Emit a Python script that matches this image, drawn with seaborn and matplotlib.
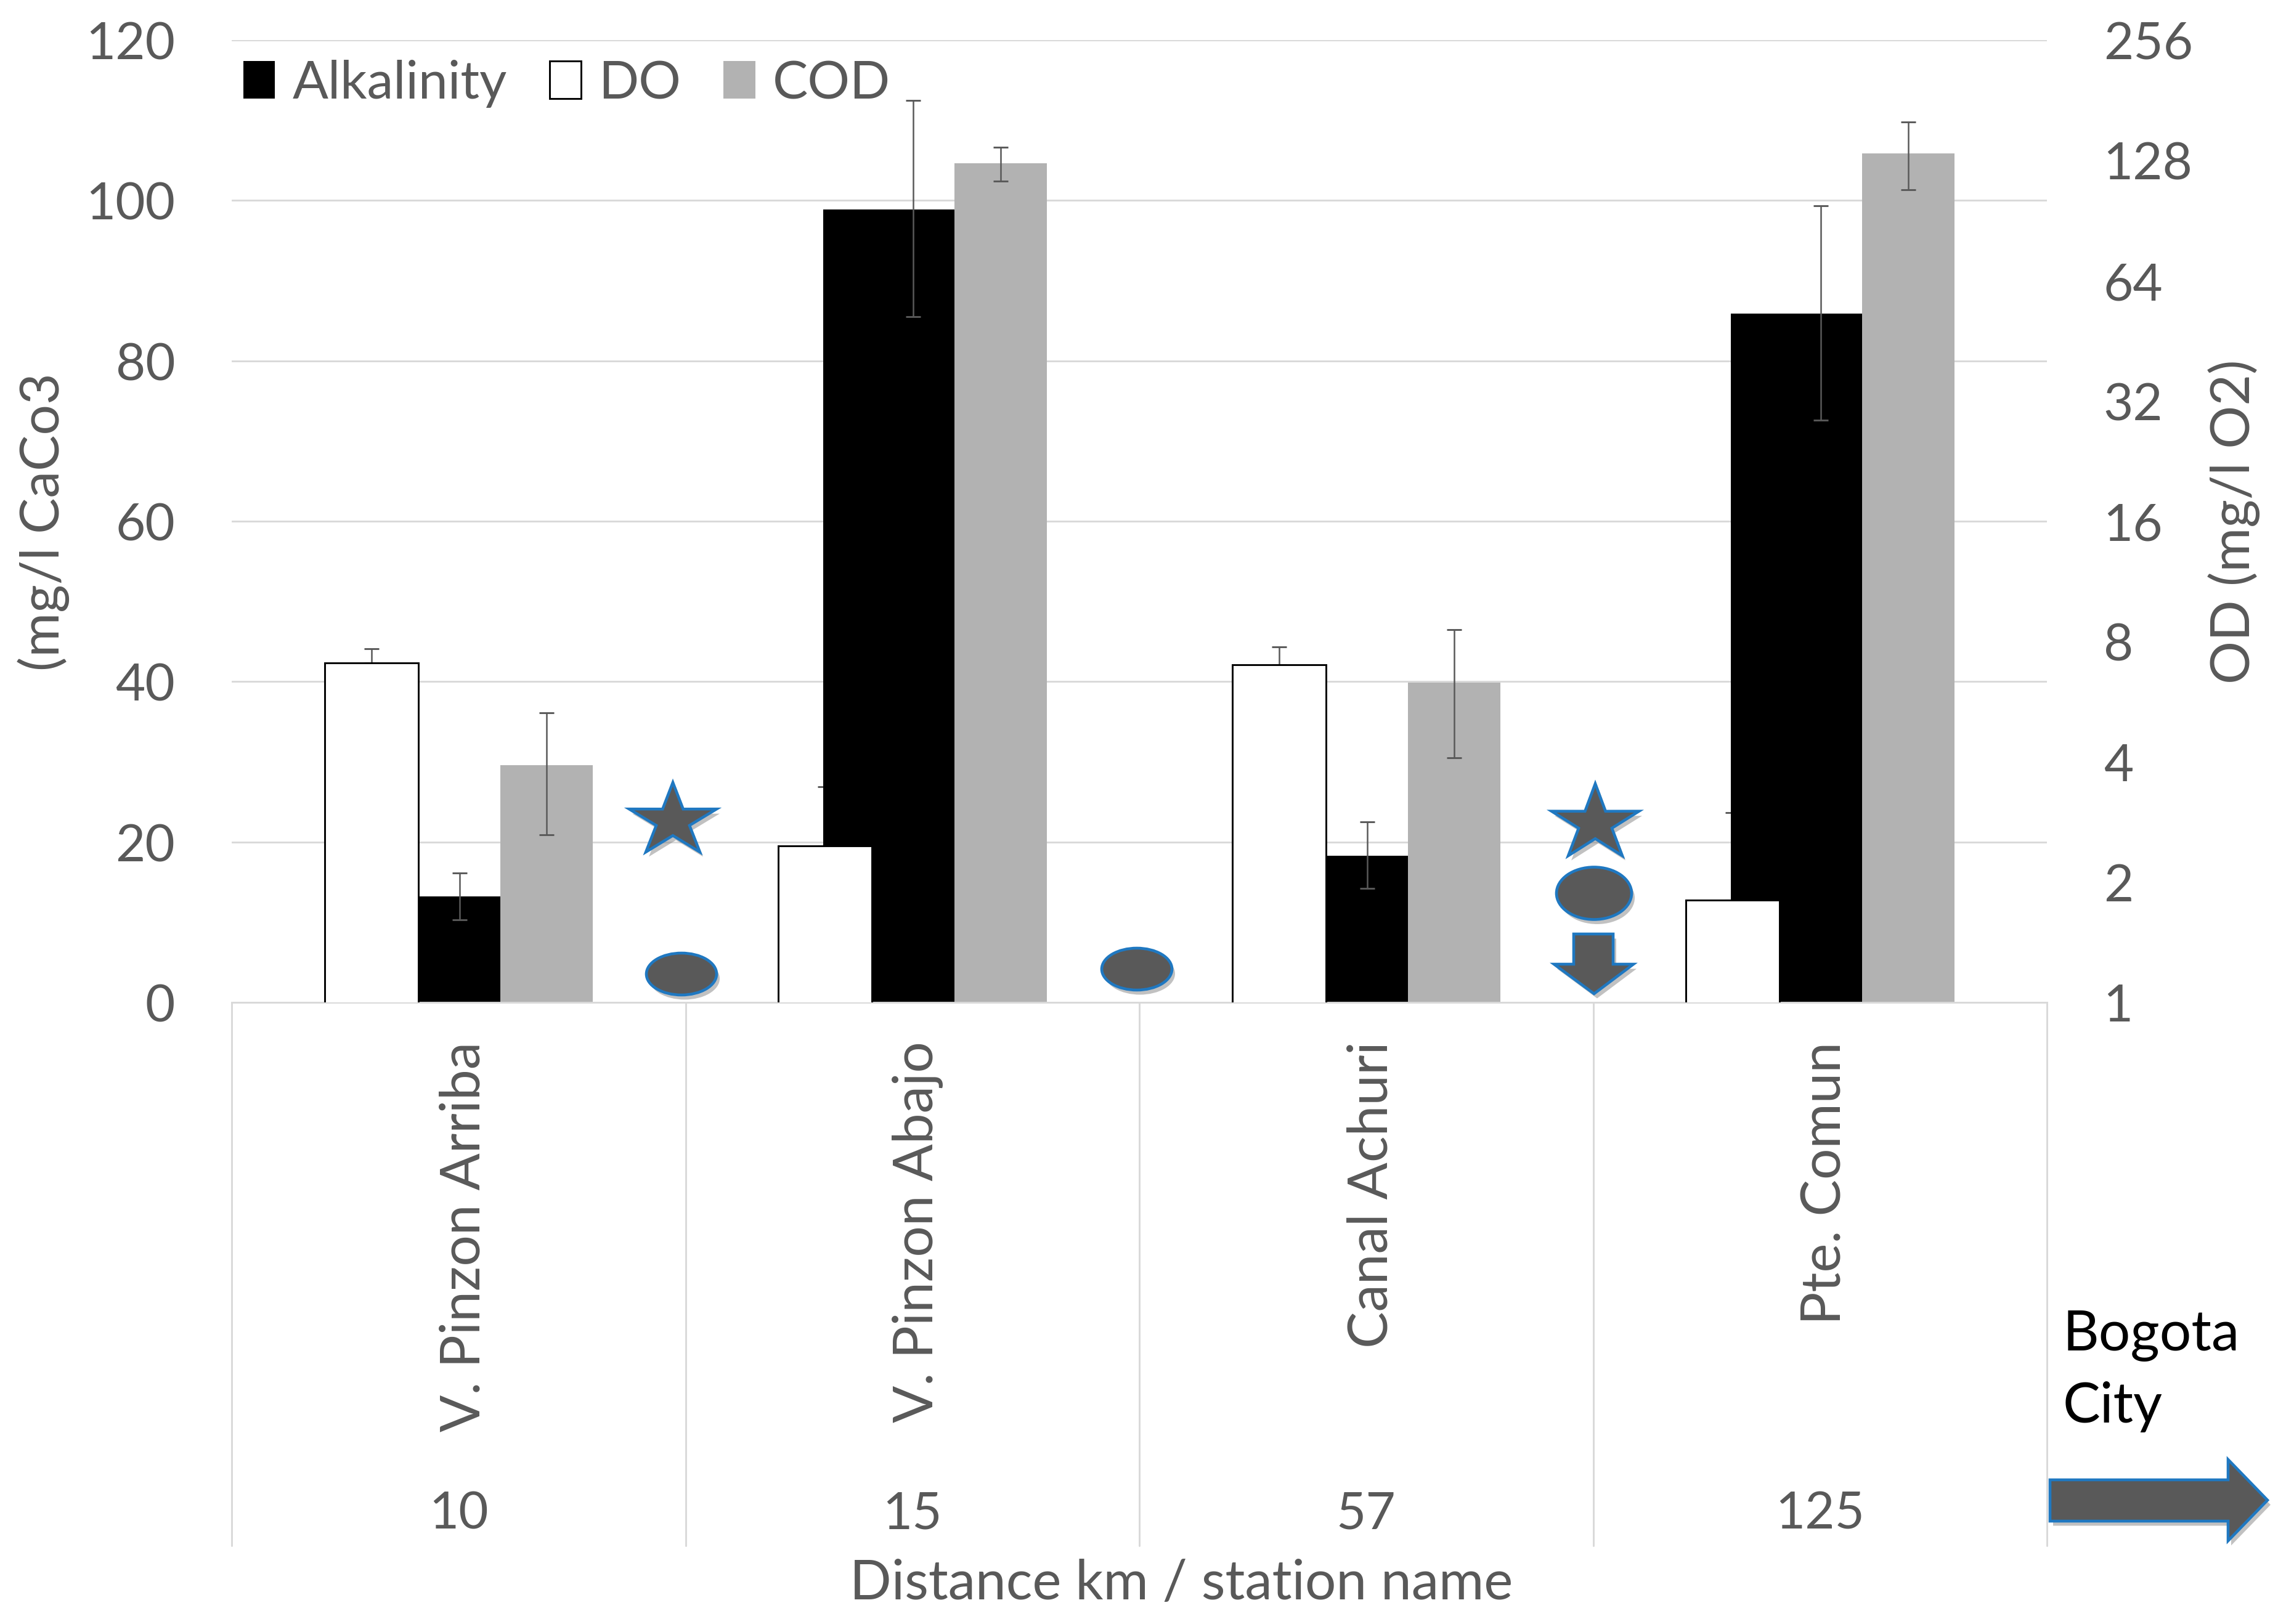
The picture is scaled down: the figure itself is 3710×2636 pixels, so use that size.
#!/usr/bin/env python3

import numpy as np
import seaborn as sns
import matplotlib
matplotlib.use("Agg")
import matplotlib.pyplot as plt
import matplotlib.patches as mpatches
import matplotlib.patheffects as pe
from matplotlib.path import Path
from matplotlib.transforms import ScaledTranslation

stations = ["V. Pinzon Arriba", "V. Pinzon Abajo", "Canal Achuri", "Pte. Comun"]
distances = ["10", "15", "57", "125"]

alkalinity = [13.2, 98.9, 18.3, 85.9]
alkalinity_low = [2.9, 13.4, 4.1, 13.3]
alkalinity_high = [2.9, 13.6, 4.2, 13.4]
cod = [29.6, 104.6, 39.9, 105.9]
cod_low = [8.7, 2.2, 9.4, 4.6]
cod_high = [6.5, 2.0, 6.6, 3.9]
do = [7.07, 2.46, 7.0, 1.80]
do_high = [0.61, 1.0, 0.75, 1.18]

left_ticks = [0, 20, 40, 60, 80, 100, 120]
right_ticks = [1, 2, 4, 8, 16, 32, 64, 128, 256]

TEXT = "#595959"
GRID = "#D9D9D9"
SHAPE = "#595959"
EDGE = "#1F78C1"
FS = 20
FS_LABEL = 21.4

sns.set_style("whitegrid")
plt.rcParams["font.family"] = ["Lato", "DejaVu Sans"]


def bars(ax, values, offset, width, **kw):
    xs = np.arange(len(values)) + offset
    sns.barplot(x=xs, y=values, native_scale=True, width=width, errorbar=None,
                saturation=1, ax=ax, **kw)


def errs(ax, values, low, high, offset, zorder=5):
    xs = np.arange(len(values)) + offset
    ax.errorbar(xs, values, yerr=[low, high], fmt="none", ecolor="#595959", elinewidth=0.6,
                capsize=2.9, capthick=0.7, zorder=zorder)


def shape(over, patch):
    patch.set(facecolor=SHAPE, edgecolor=EDGE, linewidth=1.1, zorder=5)
    patch.set_path_effects([
        pe.SimplePatchShadow(offset=(1.2, -1.8), shadow_rgbFace="#777777", alpha=0.45),
        pe.Normal(),
    ])
    over.add_patch(patch)


def star(x0, x1, y0, y1):
    verts = Path.unit_regular_star(5, innerCircle=0.38).vertices[:-1]
    verts = verts - verts.min(axis=0)
    verts = verts / verts.max(axis=0)
    return mpatches.Polygon(
        np.column_stack([x0 + verts[:, 0] * (x1 - x0), y1 - verts[:, 1] * (y1 - y0)]),
        closed=True,
    )


fig = plt.figure(figsize=(3710 / 300, 2637 / 300), dpi=300)
ax = fig.add_axes([376 / 3710, 1 - 1628 / 2637, 2946 / 3710, 1562 / 2637])

# three layers: DO error bars sit behind the black bars, DO bars in front
ax_back = ax.twinx()
ax_back.set_zorder(0)
ax.set_zorder(1)
ax.patch.set_visible(False)
ax_do = ax.twinx()
ax_do.set_zorder(2)
ax_do.patch.set_visible(False)

for a in (ax_back, ax_do):
    a.set_yscale("log", base=2)

errs(ax_back, do, [0, 0, 0, 0], do_high, -0.192)
ax_back.set_ylim(1, 256)
ax_back.axis("off")

bars(ax, alkalinity, -0.052, 0.289, color="black", linewidth=0, label="Alkalinity")
bars(ax, cod, 0.194, 0.204, color="#B2B2B2", linewidth=0, label="COD")
errs(ax, alkalinity, alkalinity_low, alkalinity_high, 0.002)
errs(ax, cod, cod_low, cod_high, 0.194)

bars(ax_do, do, -0.192, 0.206, color="white", edgecolor="black", linewidth=0.7, label="DO")

ax.set_ylim(0, 120)
ax.set_yticks(left_ticks)
ax.grid(axis="y", color=GRID, linewidth=0.7)
ax.grid(axis="x", visible=False)
ax.set_axisbelow(True)
ax.tick_params(axis="y", length=0, pad=22, labelsize=FS, labelcolor=TEXT)
ax.set_xlim(-0.5, 3.5)
ax.set_xticks(range(len(stations)))
ax.set_xticklabels(stations, rotation=90, va="top", ha="center")
ax.tick_params(axis="x", length=0, pad=15, labelsize=FS_LABEL, labelcolor=TEXT)
nudge = ScaledTranslation(9 / 300, 0, fig.dpi_scale_trans)
for lab in ax.get_xticklabels():
    lab.set_transform(lab.get_transform() + nudge)
sns.despine(ax=ax, left=True, right=True, top=True, bottom=False)
ax.spines["bottom"].set_color(GRID)
ax.spines["bottom"].set_linewidth(0.7)

ax_do.set_ylim(1, 256)
ax_do.set_yticks(right_ticks)
ax_do.set_yticklabels([str(t) for t in right_ticks])
ax_do.minorticks_off()
ax_do.grid(False)
ax_do.tick_params(axis="y", length=0, pad=22, labelsize=FS, labelcolor=TEXT)
for side in ax_do.spines:
    ax_do.spines[side].set_visible(False)

ax.set_ylabel("(mg/l CaCo3", fontsize=21, color=TEXT, va="center")
ax.yaxis.set_label_coords(-0.1036, 0.5)
ax_do.set_ylabel("OD (mg/l O2)", fontsize=21, color=TEXT, rotation=90, va="center")
ax_do.yaxis.set_label_coords(1.103, 0.5)
ax.set_xlabel("Distance km / station name", fontsize=FS_LABEL, color=TEXT, va="center")
ax.xaxis.set_label_coords(0.523, -0.604)

# group dividers and distance row under the axis
for edge in np.arange(len(stations) + 1) - 0.5:
    ax.plot([edge, edge], [0, -0.5647], transform=ax.get_xaxis_transform(),
            color=GRID, linewidth=0.7, clip_on=False)
for i, d in enumerate(distances):
    ax.text(i, -0.532, d, transform=ax.get_xaxis_transform(), ha="center", va="center",
            fontsize=FS, color=TEXT)

h, l = ax.get_legend_handles_labels()
h2, l2 = ax_do.get_legend_handles_labels()
if ax.get_legend():
    ax.get_legend().remove()
if ax_do.get_legend():
    ax_do.get_legend().remove()
ax_do.legend([h[0], h2[0], h[1]], [l[0], l2[0], l[1]], ncol=3, loc="upper left",
             bbox_to_anchor=(0.0064, 0.98), frameon=False, fontsize=20.6, labelcolor=TEXT,
             handlelength=0.6, handleheight=0.72, handletextpad=0.33, columnspacing=0.8,
             borderaxespad=0, borderpad=0)

# hand-drawn annotations sit over the chart in pixel coordinates
over = fig.add_axes([0, 0, 1, 1], zorder=10)
over.set_xlim(0, 3710)
over.set_ylim(2637, 0)
over.axis("off")

shape(over, star(1021, 1163, 1271, 1384))
shape(over, star(2518, 2660, 1273, 1390))
shape(over, mpatches.Ellipse((1106, 1582), 114, 68))
shape(over, mpatches.Ellipse((1845, 1574), 114, 68))
shape(over, mpatches.Ellipse((2587, 1451), 122, 85))
shape(over, mpatches.Polygon([(2554, 1517), (2618, 1517), (2618, 1566), (2651, 1566),
                              (2587, 1614), (2522, 1566), (2554, 1566)], closed=True))
shape(over, mpatches.Polygon([(3327, 2403), (3616, 2403), (3616, 2370), (3680, 2436),
                              (3616, 2502), (3616, 2470), (3327, 2470)], closed=True))

over.text(3348, 2192, "Bogota", fontsize=21.8, color="black", va="baseline", ha="left")
over.text(3348, 2309, "City", fontsize=21.8, color="black", va="baseline", ha="left")

fig.savefig("out.png", dpi=300)
